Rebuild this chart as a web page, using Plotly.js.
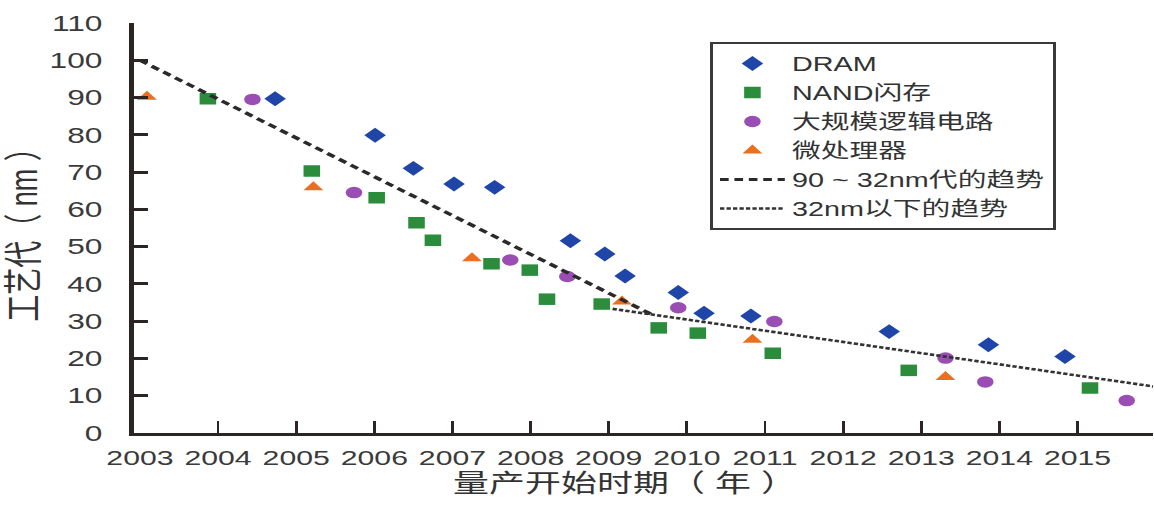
<!DOCTYPE html>
<html><head><meta charset="utf-8">
<script src="https://cdn.plot.ly/plotly-3.0.1.min.js"></script>
<style>
html,body{margin:0;padding:0;background:#fff;overflow:hidden;}
#chart{width:801.39px;height:505px;transform:scaleX(1.44);transform-origin:0 0;}
#chart .g-xtitle text.xtitle{transform:translateX(-13px);}
#chart path.xtick.ticks:first-of-type{display:none;}
</style></head><body><div id="chart"></div>
<script>
// ---- data ----
const dramX = [2004.73, 2006.01, 2006.50, 2007.02, 2007.54, 2008.51, 2008.95, 2009.21, 2009.89, 2010.22, 2010.82, 2012.59, 2013.86, 2014.84];
const dramY = [89.7, 79.9, 71.0, 66.8, 65.9, 51.6, 48.0, 42.1, 37.7, 32.1, 31.4, 27.2, 23.7, 20.5];
const nandX = [2003.87, 2005.20, 2006.03, 2006.54, 2006.75, 2007.50, 2007.99, 2008.21, 2008.91, 2009.64, 2010.14, 2011.10, 2012.84, 2015.16];
const nandY = [89.7, 70.3, 63.1, 56.4, 51.7, 45.4, 43.7, 35.9, 34.6, 28.2, 26.8, 21.4, 16.8, 12.1];
const logicX = [2004.44, 2005.74, 2007.74, 2008.47, 2009.89, 2011.12, 2013.31, 2013.82, 2015.63];
const logicY = [89.5, 64.5, 46.4, 42.0, 33.6, 29.9, 20.1, 13.7, 8.7];
const mpuX = [2003.09, 2005.22, 2007.25, 2009.17, 2010.84, 2013.31];
const mpuY = [90.2, 65.9, 46.9, 35.3, 25.0, 15.0];
const trendAX = [2003, 2009.55];
const trendAY = [100, 31.8];
const trendBX = [2009.05, 2015.97];
const trendBY = [33.3, 12.5];
const xTickYears = [2003, 2004, 2005, 2006, 2007, 2008, 2009, 2010, 2011, 2012, 2013, 2014, 2015];
const yTickVals = [0, 10, 20, 30, 40, 50, 60, 70, 80, 90, 100, 110];
const seriesNames = ['DRAM', 'NAND闪存', '大规模逻辑电路', '微处理器', '90 ~ 32nm代的趋势', '32nm以下的趋势'];

// ---- styling ----
const S = 1.44;                 // horizontal stretch of the reference picture
const W = 1154 / S;
const LAT = 'Liberation Sans, Arial, Noto Sans CJK SC, sans-serif';
const CJK = 'Liberation Sans, Noto Sans CJK SC, sans-serif';
const AX = '#2b2623';

const traces = [
  {type:'scatter', mode:'markers', name:seriesNames[0], x:dramX, y:dramY,
   marker:{symbol:'diamond', size:11.5, color:'#1f45a8', line:{width:0}}},
  {type:'scatter', mode:'markers', name:seriesNames[1], x:nandX, y:nandY,
   marker:{symbol:'square', size:11.5, color:'#2b8c3c', line:{width:0}}},
  {type:'scatter', mode:'markers', name:seriesNames[2], x:logicX, y:logicY,
   marker:{symbol:'circle', size:11.5, color:'#9a4db3', line:{width:0}}},
  {type:'scatter', mode:'markers', name:seriesNames[3], x:mpuX, y:mpuY,
   marker:{symbol:'triangle-up', size:12, color:'#ea701f', line:{width:0}}},
  {type:'scatter', mode:'lines', name:seriesNames[4], x:trendAX, y:trendAY,
   line:{color:'#2a2a2a', width:3.2, dash:'6px,4px'}},
  {type:'scatter', mode:'lines', name:seriesNames[5], x:trendBX, y:trendBY,
   line:{color:'#333333', width:2.6, dash:'3px,1.5px'}}
];

const layout = {
  width: W, height: 505,
  margin: {l: 92.6, r: 0, t: 22.7, b: 71.7, pad: 0},
  paper_bgcolor: '#ffffff', plot_bgcolor: '#ffffff',
  showlegend: true,
  legend: {
    x: 0.565, y: 0.9537, xanchor: 'left', yanchor: 'top',
    bgcolor: '#ffffff', bordercolor: '#3a3a3a', borderwidth: 2,
    font: {family: CJK, size: 20, color: '#333333'},
    itemwidth: 45
  },
  xaxis: {
    range: [2002.923, 2015.972],
    tickvals: xTickYears, ticktext: xTickYears.map(String),
    ticks: 'inside', ticklen: 12, tickwidth: 2, tickcolor: AX,
    showline: true, linewidth: 3, linecolor: AX,
    showgrid: false, zeroline: false, automargin: false,
    ticklabelstandoff: 4,
    tickfont: {family: LAT, size: 21, color: '#3a3a3a'},
    title: {text: '量产开始时期（ 年 ）', font: {family: CJK, size: 25, color: '#333333'}, standoff: 3}
  },
  yaxis: {
    range: [0, 110], tickvals: yTickVals,
    ticks: 'inside', ticklen: 10, tickwidth: 3, tickcolor: AX,
    showline: true, linewidth: 3.5, linecolor: AX,
    showgrid: false, zeroline: false, automargin: false,
    ticklabelstandoff: 14,
    tickfont: {family: LAT, size: 22, color: '#3a3a3a'},
    title: {text: '工艺代（ nm ）', font: {family: CJK, size: 27, color: '#333333'}, standoff: 1}
  }
};

Plotly.newPlot('chart', traces, layout, {displayModeBar: false, staticPlot: true});
</script></body></html>
